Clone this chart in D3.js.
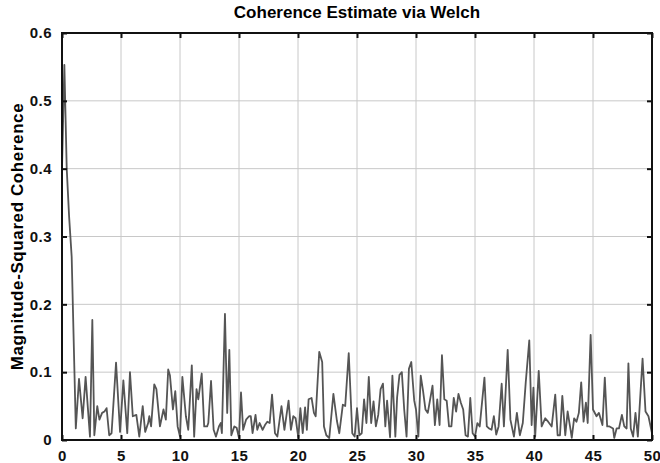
<!DOCTYPE html>
<html>
<head>
<meta charset="utf-8">
<script src="https://cdn.jsdelivr.net/npm/d3@7"></script>
<style>
  body { margin: 0; background: #fff; }
  svg { font-family: "Liberation Sans", Arial, sans-serif; }
  .grid line { stroke: #c8c8c8; stroke-width: 1; }
  .tick text { font-size: 15px; font-weight: bold; fill: #111; letter-spacing: 0.5px; }
</style>
</head>
<body>
<div class="chart"></div>
<script>
// readings of the welch coherence trace (Hz, magnitude-squared coherence)
const freq = [0, 0.2, 0.4, 0.6, 0.82, 1.17, 1.44, 1.75, 2.0, 2.37, 2.57, 2.74, 2.99, 3.17, 3.4, 3.6, 3.78, 4.0, 4.2, 4.58,
  4.92, 5.2, 5.53, 5.76, 6.0, 6.3, 6.55, 6.84, 7.05, 7.3, 7.4, 7.55, 7.82, 8.0, 8.3, 8.6, 8.8, 9.0, 9.15, 9.4,
  9.6, 9.8, 10.0, 10.2, 10.5, 10.7, 11.0, 11.2, 11.4, 11.55, 11.84, 12.05, 12.3, 12.4, 12.63, 12.85, 13.05, 13.3, 13.45, 13.55,
  13.81, 14.0, 14.18, 14.35, 14.6, 14.8, 15.0, 15.17, 15.35, 15.6, 15.85, 16.0, 16.15, 16.4, 16.55, 16.75, 17.0, 17.2, 17.4, 17.6,
  17.8, 18.05, 18.25, 18.6, 18.85, 19.2, 19.4, 19.6, 19.8, 20.03, 20.2, 20.4, 20.6, 20.75, 20.9, 21.15, 21.35, 21.5, 21.8, 22.05,
  22.2, 22.4, 22.65, 23.0, 23.3, 23.5, 23.8, 24.0, 24.3, 24.6, 24.8, 25.0, 25.2, 25.4, 25.6, 25.8, 26.0, 26.2, 26.4, 26.6,
  26.8, 27.0, 27.2, 27.4, 27.55, 27.8, 28.0, 28.25, 28.4, 28.6, 28.8, 29.0, 29.2, 29.4, 29.6, 29.85, 30.0, 30.2, 30.4, 30.6,
  30.8, 31.0, 31.4, 31.6, 31.8, 32.0, 32.2, 32.4, 32.6, 32.8, 33.0, 33.2, 33.4, 33.6, 33.8, 34.0, 34.2, 34.4, 34.6, 34.8,
  35.0, 35.2, 35.4, 35.8, 36.0, 36.2, 36.4, 36.6, 36.8, 37.0, 37.26, 37.45, 37.77, 38.0, 38.3, 38.55, 38.8, 39.05, 39.3, 39.6,
  39.8, 39.95, 40.1, 40.4, 40.65, 40.95, 41.2, 41.5, 41.8, 42.0, 42.2, 42.4, 42.65, 42.85, 43.1, 43.2, 43.4, 43.6, 43.8, 44.0,
  44.2, 44.4, 44.55, 44.8, 45.0, 45.3, 45.5, 45.8, 46.0, 46.2, 46.4, 46.7, 46.8, 47.0, 47.2, 47.45, 47.65, 47.85, 48.0, 48.2,
  48.4, 48.6, 48.8, 49.2, 49.45, 49.7, 50.0];
const coh = [0.40, 0.553, 0.40, 0.33, 0.27, 0.017, 0.09, 0.032, 0.093, 0.005, 0.177, 0.007, 0.05, 0.03, 0.04, 0.042, 0.047, 0.007, 0.01, 0.114,
  0.012, 0.088, 0.01, 0.1, 0.035, 0.037, 0.005, 0.05, 0.012, 0.025, 0.035, 0.02, 0.082, 0.075, 0.02, 0.045, 0.03, 0.104, 0.095, 0.045,
  0.072, 0.02, 0.005, 0.093, 0.035, 0.015, 0.11, 0.005, 0.075, 0.06, 0.098, 0.02, 0.02, 0.025, 0.087, 0.015, 0.005, 0.02, 0.025, 0.01,
  0.186, 0.04, 0.133, 0.007, 0.02, 0.018, 0.003, 0.07, 0.015, 0.03, 0.035, 0.035, 0.01, 0.037, 0.015, 0.025, 0.015, 0.022, 0.027, 0.025,
  0.067, 0.01, 0.005, 0.05, 0.015, 0.058, 0.015, 0.035, 0.032, 0.003, 0.047, 0.01, 0.048, 0.015, 0.06, 0.062, 0.04, 0.035, 0.13, 0.115,
  0.02, 0.007, 0.003, 0.068, 0.028, 0.01, 0.052, 0.05, 0.128, 0.01, 0.005, 0.047, 0.007, 0.01, 0.06, 0.025, 0.093, 0.025, 0.057, 0.02,
  0.037, 0.075, 0.083, 0.02, 0.058, 0.004, 0.095, 0.005, 0.063, 0.096, 0.1, 0.045, 0.005, 0.105, 0.115, 0.058, 0.045, 0.005, 0.095, 0.072,
  0.045, 0.04, 0.08, 0.022, 0.06, 0.022, 0.125, 0.06, 0.058, 0.02, 0.02, 0.062, 0.042, 0.068, 0.055, 0.045, 0.007, 0.005, 0.062, 0.01,
  0.005, 0.025, 0.02, 0.092, 0.02, 0.017, 0.015, 0.035, 0.008, 0.02, 0.083, 0.02, 0.133, 0.03, 0.005, 0.04, 0.007, 0.025, 0.085, 0.147,
  0.022, 0.077, 0.005, 0.102, 0.02, 0.032, 0.027, 0.02, 0.067, 0.007, 0.007, 0.065, 0.007, 0.042, 0.015, 0.003, 0.032, 0.027, 0.04, 0.085,
  0.027, 0.055, 0.025, 0.155, 0.045, 0.035, 0.04, 0.022, 0.092, 0.02, 0.02, 0.017, 0.003, 0.017, 0.017, 0.037, 0.02, 0.017, 0.113, 0.017,
  0.005, 0.04, 0.005, 0.12, 0.042, 0.035, 0.01];

const xTicks = [0, 5, 10, 15, 20, 25, 30, 35, 40, 45, 50];
const yTicks = [0, 0.1, 0.2, 0.3, 0.4, 0.5, 0.6];
const title = 'Coherence Estimate via Welch';
const yLabel = 'Magnitude-Squared Coherence';

const width = 660, height = 463;
const margin = { top: 33, right: 8, bottom: 23, left: 62 };
const innerW = width - margin.left - margin.right;
const innerH = height - margin.top - margin.bottom;

const svg = d3.select('.chart')
  .append('svg')
  .attr('width', width)
  .attr('height', height);

const g = svg.append('g')
  .attr('transform', `translate(${margin.left},${margin.top})`);

const x = d3.scaleLinear().domain([0, 50]).range([0, innerW]);
const y = d3.scaleLinear().domain([0, 0.6]).range([innerH, 0]);

// grid
g.append('g').attr('class', 'grid')
  .selectAll('line.v')
  .data(xTicks.slice(1, -1))
  .enter().append('line')
  .attr('x1', d => x(d)).attr('x2', d => x(d))
  .attr('y1', 0).attr('y2', innerH);

g.append('g').attr('class', 'grid')
  .selectAll('line.h')
  .data(yTicks.slice(1, -1))
  .enter().append('line')
  .attr('x1', 0).attr('x2', innerW)
  .attr('y1', d => y(d)).attr('y2', d => y(d));

// the trace
const line = d3.line()
  .x((d, i) => x(freq[i]))
  .y(d => y(d));

g.append('path')
  .datum(coh)
  .attr('fill', 'none')
  .attr('stroke', '#555')
  .attr('stroke-width', 1.8)
  .attr('stroke-linejoin', 'round')
  .attr('d', line);

// axes, ticks pointing in on all four sides
const fmtY = d => d === 0 ? '0' : d3.format('.1f')(d);

g.append('g')
  .attr('transform', `translate(0,${innerH})`)
  .call(d3.axisBottom(x).tickValues(xTicks).tickSizeInner(-5).tickSizeOuter(0).tickPadding(10))
  .call(a => a.select('.domain').remove());

g.append('g')
  .call(d3.axisLeft(y).tickValues(yTicks).tickFormat(fmtY).tickSizeInner(-5).tickSizeOuter(0).tickPadding(10))
  .call(a => a.select('.domain').remove());

g.append('g')
  .call(d3.axisTop(x).tickValues(xTicks).tickFormat('').tickSizeInner(-5).tickSizeOuter(0))
  .call(a => a.select('.domain').remove());

g.append('g')
  .attr('transform', `translate(${innerW},0)`)
  .call(d3.axisRight(y).tickValues(yTicks).tickFormat('').tickSizeInner(-5).tickSizeOuter(0))
  .call(a => a.select('.domain').remove());

g.selectAll('.tick line').attr('stroke', '#111').attr('stroke-width', 2);

g.append('rect')
  .attr('width', innerW)
  .attr('height', innerH)
  .attr('fill', 'none')
  .attr('stroke', '#111')
  .attr('stroke-width', 2);

svg.append('text')
  .attr('x', margin.left + innerW / 2)
  .attr('y', 18)
  .attr('text-anchor', 'middle')
  .style('font-size', '17px')
  .style('font-weight', 'bold')
  .text(title);

svg.append('text')
  .attr('transform', `translate(23,${margin.top + innerH / 2}) rotate(-90)`)
  .attr('text-anchor', 'middle')
  .style('font-size', '17px')
  .style('font-weight', 'bold')
  .style('letter-spacing', '0.6px')
  .text(yLabel);
</script>
</body>
</html>
